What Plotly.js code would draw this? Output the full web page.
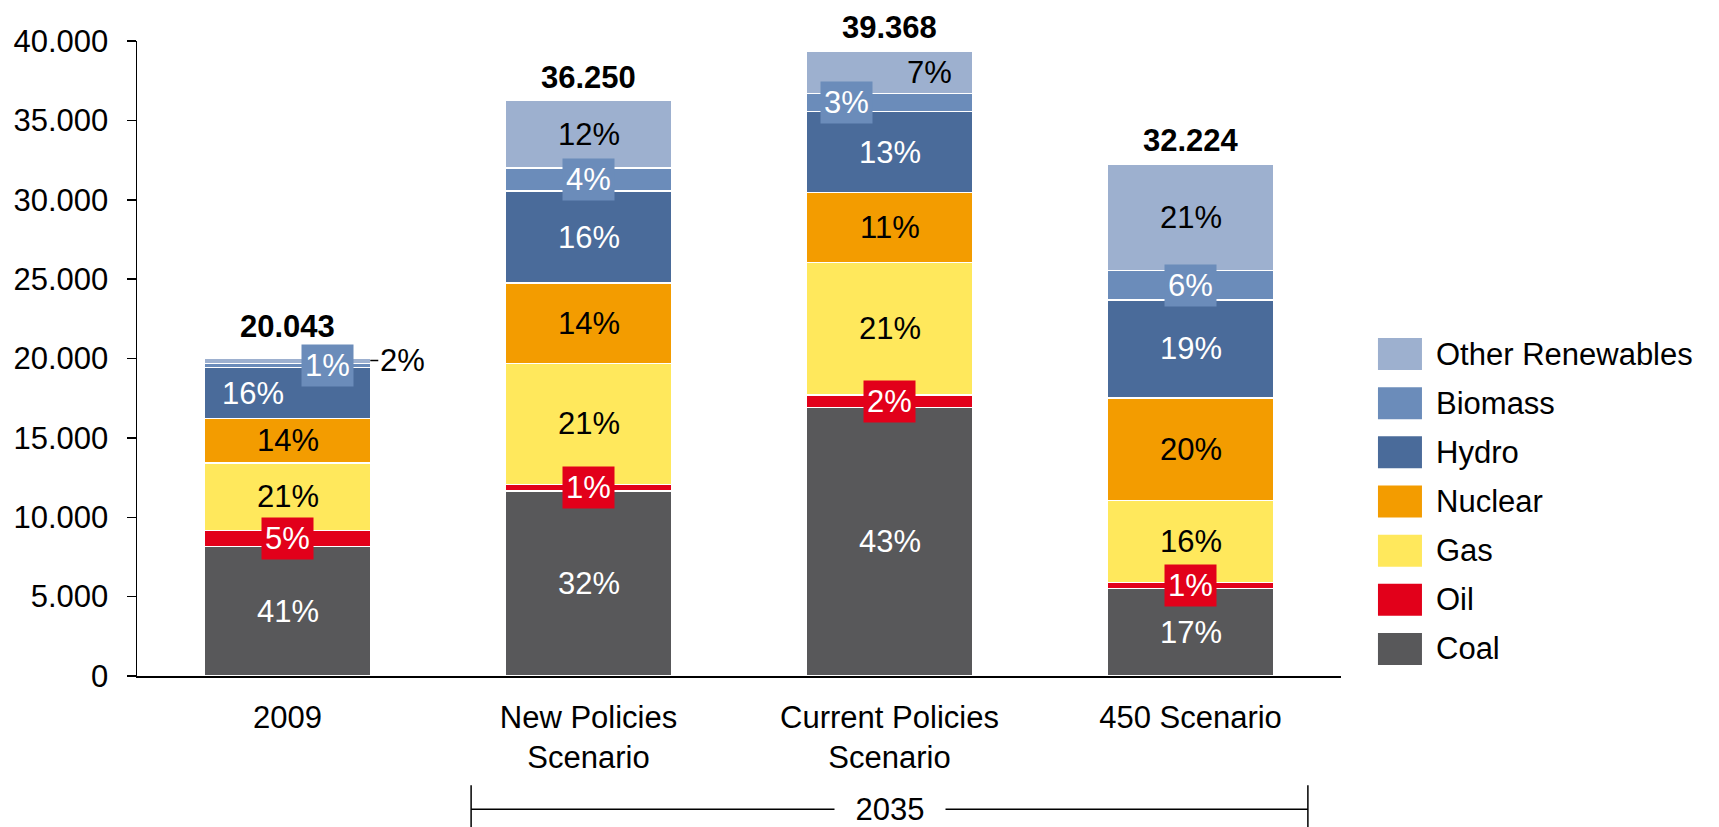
<!DOCTYPE html>
<html>
<head>
<meta charset="utf-8">
<script src="https://cdn.plot.ly/plotly-3.0.1.min.js"></script>
<style>html,body{margin:0;padding:0;background:#fff;}#chart{width:1719px;height:827px;}</style>
</head>
<body>
<div id="chart"></div>
<script>
// ---- Data (TWh) ----
const categories = ['2009', 'New Policies<br>Scenario', 'Current Policies<br>Scenario', '450 Scenario'];
const seriesNames = ['Coal', 'Oil', 'Gas', 'Nuclear', 'Hydro', 'Biomass', 'Other Renewables'];
const coal     = [8150, 11650, 16900, 5500];
const oil      = [1030,   400,   800,  400];
const gas      = [4250,  7650,  8350, 5150];
const nuclear  = [2790,  5050,  4400, 6450];
const hydro    = [3210,  5800,  5100, 6200];
const biomass  = [ 260,  1450,  1150, 1850];
const otherRen = [ 353,  4250,  2668, 6674];
const bracketLabel = '2035';

// ---- Styles ----
const colors = ['#58585A', '#E2001A', '#FFE85C', '#F39C00', '#4A6B9A', '#6B8CBA', '#9DB0CF'];
const labelColors = ['#ffffff', '#ffffff', '#000000', '#000000', '#ffffff', '#ffffff', '#000000'];
const boxedSeries = {1: true, 5: true};  // label boxes for thin segments
const FONT = 'Liberation Sans, Arial, sans-serif';
const FS = 31;
// label x-offsets in px: key "series,category"
const labelShift = {'4,0': -35, '5,0': 40, '5,2': -43, '6,2': 40};

const values = [coal, oil, gas, nuclear, hydro, biomass, otherRen];
const nCat = categories.length;
const totals = categories.map((c, j) => values.reduce((s, arr) => s + arr[j], 0));

function fmtThousands(n) {
  return String(Math.round(n)).replace(/\B(?=(\d{3})+(?!\d))/g, '.');
}

const traces = values.map((arr, i) => ({
  type: 'bar',
  name: seriesNames[i],
  x: categories.map((c, j) => j),
  y: arr,
  marker: {color: colors[i], line: {color: '#ffffff', width: 1.5}},
  hoverinfo: 'name+y',
  showlegend: false
}));

const annotations = [];
const shapes = [];

// segment labels
for (let j = 0; j < nCat; j++) {
  let base = 0;
  for (let i = 0; i < values.length; i++) {
    const v = values[i][j];
    const mid = base + v / 2;
    base += v;
    const pct = Math.round(v / totals[j] * 100) + '%';
    // special case: 2009 other renewables label sits outside with a leader line
    if (i === 6 && j === 0) {
      annotations.push({
        x: j + 0.275, y: mid, xref: 'x', yref: 'y',
        text: pct, showarrow: true, arrowhead: 0, arrowwidth: 1.5, arrowcolor: '#000',
        ax: 32, ay: 0, standoff: 0,
        font: {family: FONT, size: FS, color: '#000'}
      });
      continue;
    }
    const a = {
      x: j, y: mid, xref: 'x', yref: 'y', text: pct, showarrow: false,
      xshift: labelShift[i + ',' + j] || 0,
      font: {family: FONT, size: FS, color: labelColors[i]}
    };
    if (boxedSeries[i]) { a.bgcolor = colors[i]; a.borderpad = 3; }
    annotations.push(a);
  }
  // total on top
  annotations.push({
    x: j, y: totals[j], xref: 'x', yref: 'y', yanchor: 'bottom',
    yshift: j === 0 ? 12 : 4,
    text: '<b>' + fmtThousands(totals[j]) + '</b>', showarrow: false,
    font: {family: FONT, size: FS, color: '#000'}
  });
}

// bracket for 2035 scenarios
const bY = -0.21;
shapes.push({type: 'line', xref: 'x', yref: 'paper', x0: 0.61, x1: 3.39, y0: bY, y1: bY, line: {color: '#000', width: 1.5}});
shapes.push({type: 'line', xref: 'x', yref: 'paper', x0: 0.61, x1: 0.61, y0: bY + 0.038, y1: bY - 0.04, line: {color: '#000', width: 1.5}});
shapes.push({type: 'line', xref: 'x', yref: 'paper', x0: 3.39, x1: 3.39, y0: bY + 0.038, y1: bY - 0.04, line: {color: '#000', width: 1.5}});
annotations.push({
  x: 2, y: bY, xref: 'x', yref: 'paper', xanchor: 'center', yanchor: 'middle',
  text: bracketLabel, showarrow: false,
  bgcolor: '#ffffff', width: 108, font: {family: FONT, size: FS, color: '#000'}
});

// custom legend (large swatches), top to bottom: reverse of stack order
const legX = 1.0307, legTextX = 1.0772, legY0 = 0.507, legStep = 0.0774;
for (let k = 0; k < seriesNames.length; k++) {
  const i = seriesNames.length - 1 - k;
  const yc = legY0 - k * legStep;
  shapes.push({
    type: 'rect', xref: 'paper', yref: 'paper',
    xsizemode: 'pixel', ysizemode: 'pixel', xanchor: legX, yanchor: yc,
    x0: 0, x1: 44, y0: -16, y1: 16,
    fillcolor: colors[i], line: {width: 0}
  });
  annotations.push({
    x: legTextX, y: yc, xref: 'paper', yref: 'paper', xanchor: 'left', yanchor: 'middle',
    text: seriesNames[i], showarrow: false, font: {family: FONT, size: FS, color: '#000'}
  });
}

const layout = {
  width: 1719, height: 827, autosize: false,
  margin: {l: 137, r: 378, t: 41, b: 151, pad: 0},
  paper_bgcolor: '#ffffff', plot_bgcolor: '#ffffff',
  separators: ',.',
  barmode: 'stack', bargap: 0.45,
  font: {family: FONT, size: FS, color: '#000'},
  showlegend: false,
  xaxis: {
    type: 'linear', range: [-0.5, nCat - 0.5],
    tickmode: 'array', tickvals: categories.map((c, j) => j), ticktext: categories,
    showline: true, linecolor: '#000', linewidth: 1.5,
    ticks: 'outside', ticklen: 13, tickcolor: 'rgba(0,0,0,0)',
    showgrid: false, zeroline: false,
    tickfont: {family: FONT, size: FS, color: '#000'}
  },
  yaxis: {
    range: [0, 40000], dtick: 5000, tickformat: ',d',
    showline: true, linecolor: '#000', linewidth: 1.5,
    ticks: 'outside', ticklen: 9, tickwidth: 1.5, tickcolor: '#000',
    ticklabelstandoff: 12,
    showgrid: false, zeroline: false,
    tickfont: {family: FONT, size: FS, color: '#000'}
  },
  annotations: annotations,
  shapes: shapes
};

Plotly.newPlot('chart', traces, layout, {staticPlot: true, displayModeBar: false});
</script>
</body>
</html>
